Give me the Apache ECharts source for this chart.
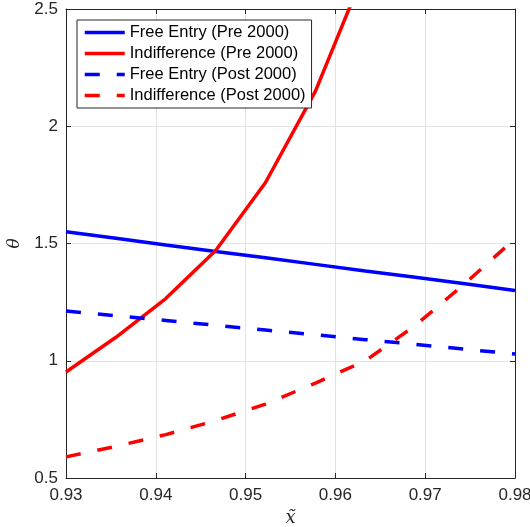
<!DOCTYPE html>
<html>
<head>
<meta charset="utf-8">
<script src="https://cdn.jsdelivr.net/npm/echarts@6/dist/echarts.min.js"></script>
<style>
  html, body { margin: 0; padding: 0; background: #fff; }
  #main { width: 530px; height: 527px; }
</style>
</head>
<body>
<div id="main"></div>
<script>
// x grid: 10 points from 0.93 to 0.98
var xVals = [0.93, 0.93556, 0.94111, 0.94667, 0.95222, 0.95778, 0.96333, 0.96889, 0.97444, 0.98];
var freeEntryPre = [1.55, 1.522, 1.494, 1.466, 1.439, 1.411, 1.383, 1.356, 1.328, 1.30];
var indiffPre = [0.952, 1.10, 1.265, 1.47, 1.76, 2.15, 2.67];
var freeEntryPost = [1.212, 1.192, 1.172, 1.151, 1.131, 1.111, 1.090, 1.070, 1.049, 1.029];
var indiffPost = [0.59, 0.635, 0.685, 0.745, 0.815, 0.905, 1.00, 1.15, 1.33, 1.52];
var xTicks = [0.93, 0.94, 0.95, 0.96, 0.97, 0.98];
var yTicks = [0.5, 1, 1.5, 2, 2.5];

function pairs(ys) {
  var out = [];
  for (var i = 0; i < ys.length; i++) out.push([xVals[i], ys[i]]);
  return out;
}

var chart = echarts.init(document.getElementById('main'));
var axisColor = '#262626';
var font = 'Liberation Sans, Arial, Helvetica, sans-serif';
var serif = 'DejaVu Serif, Liberation Serif, serif';

function boxAxis(pos, isX, labels) {
  return {
    type: 'value',
    position: pos,
    min: isX ? xTicks[0] : yTicks[0],
    max: isX ? xTicks[xTicks.length - 1] : yTicks[yTicks.length - 1],
    interval: isX ? 0.01 : 0.5,
    axisLine: { show: true, onZero: false, lineStyle: { color: axisColor, width: 1 } },
    axisTick: { show: true, inside: true, length: 5, lineStyle: { color: axisColor } },
    axisLabel: {
      show: labels, color: axisColor, fontSize: 17, fontFamily: font, margin: isX ? 9 : 8,
      formatter: isX ? function (v) { return v.toFixed(2); } : function (v) { return String(+v.toFixed(2)); }
    },
    splitLine: { show: labels, lineStyle: { color: '#e3e3e3', width: 1 } }
  };
}

var xMain = boxAxis('bottom', true, true);
xMain.name = 'x\u0303';
xMain.nameLocation = 'middle';
xMain.nameGap = 29;
xMain.nameTextStyle = { fontFamily: serif, fontStyle: 'italic', fontSize: 18, color: axisColor };
var yMain = boxAxis('left', false, true);
yMain.name = '\u03b8';
yMain.nameLocation = 'middle';
yMain.nameGap = 40;
yMain.nameTextStyle = { fontFamily: serif, fontStyle: 'italic', fontSize: 17, color: axisColor };

function line(name, ys, color, dashed) {
  return {
    name: name,
    type: 'line',
    data: pairs(ys),
    symbol: 'none',
    clip: true,
    lineStyle: { color: color, width: 3.5, type: dashed ? [15, 17] : 'solid' },
    itemStyle: { color: color }
  };
}

chart.setOption({
  animation: false,
  grid: { left: 66, right: 15, top: 9, bottom: 49, outerBoundsMode: 'none', containLabel: false },
  legend: {
    left: 77, top: 20,
    orient: 'vertical',
    backgroundColor: '#fff',
    borderColor: axisColor,
    borderWidth: 1,
    padding: [4, 6, 4, 6],
    itemWidth: 40,
    itemHeight: 14,
    itemGap: 4,
    itemStyle: { opacity: 0 },
    lineStyle: { width: 3.5 },
    textStyle: { fontFamily: font, fontSize: 16.5, lineHeight: 17, color: '#000' },
    data: ['Free Entry (Pre 2000)', 'Indifference (Pre 2000)', 'Free Entry (Post 2000)', 'Indifference (Post 2000)']
  },
  xAxis: [xMain, boxAxis('top', true, false)],
  yAxis: [yMain, boxAxis('right', false, false)],
  series: [
    line('Free Entry (Pre 2000)', freeEntryPre, '#0000ff', false),
    line('Indifference (Pre 2000)', indiffPre, '#ff0000', false),
    line('Free Entry (Post 2000)', freeEntryPost, '#0000ff', true),
    line('Indifference (Post 2000)', indiffPost, '#ff0000', true)
  ]
});
</script>
</body>
</html>
